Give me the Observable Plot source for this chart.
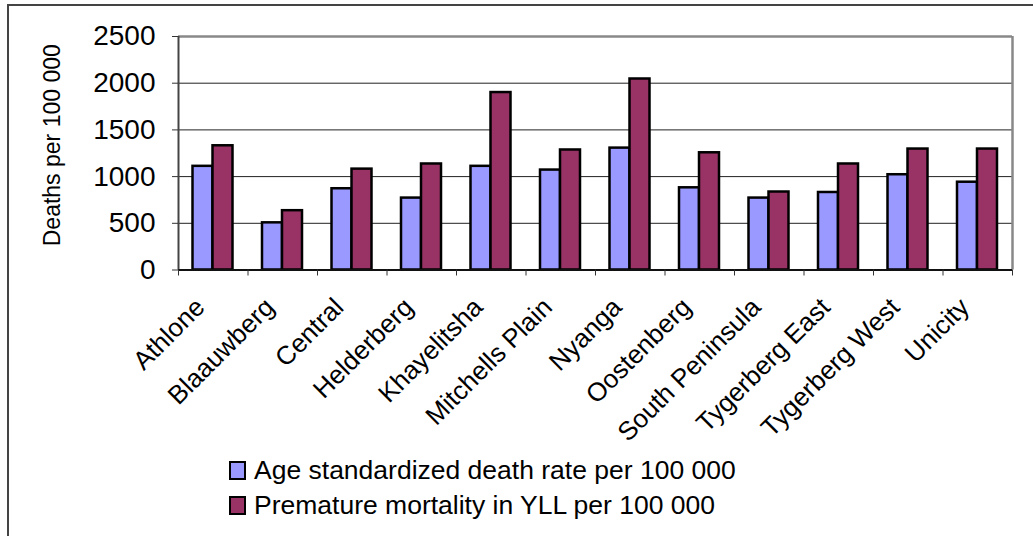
<!DOCTYPE html>
<html><head><meta charset="utf-8">
<script src="https://cdn.jsdelivr.net/npm/d3@7"></script>
<script src="https://cdn.jsdelivr.net/npm/@observablehq/plot@0.6"></script>
<style>
body{margin:0;background:#fff;font-family:"Liberation Sans",Arial,sans-serif;}
#wrap{position:relative;width:1033px;height:536px;overflow:hidden;background:#fff;}
#frame{position:absolute;left:7px;top:4px;width:1100px;height:530px;border-left:2px solid #444;border-top:2px solid #444;border-bottom:1px solid #ddd;}
#chart{position:absolute;left:0;top:0;}
#legend{position:absolute;left:229px;top:453px;font-size:26.5px;color:#000;line-height:1;}
.row{display:flex;align-items:center;height:35px;}
.sw{width:13px;height:15px;border:2.5px solid #000;margin-right:8px;flex:none;}
</style></head>
<body><div id="wrap"><div id="frame"></div><div id="chart"></div><div id="legend"></div></div>
<script>
const regions = ["Athlone","Blaauwberg","Central","Helderberg","Khayelitsha","Mitchells Plain","Nyanga","Oostenberg","South Peninsula","Tygerberg East","Tygerberg West","Unicity"];
const deathRate = [1110,505,870,770,1110,1070,1305,880,770,830,1020,940];
const yllRate = [1330,635,1080,1135,1900,1285,2045,1255,835,1135,1295,1295];
const yTicks = [0,500,1000,1500,2000,2500];
const seriesNames = ["Age standardized death rate per 100 000","Premature mortality in YLL per 100 000"];
const seriesColors = ["#9999FF","#993366"];
const yLabel = "Deaths per 100 000";

const table = regions.map((r,i)=>({i, region:r, death:deathRate[i], yll:yllRate[i]}));
const W = 1033, H = 450;
const font = "'Liberation Sans', Arial, sans-serif";

const chart = Plot.plot({
  width: W, height: H,
  marginLeft: 178, marginRight: 21, marginTop: 36, marginBottom: H - 269.5,
  x: {type: "linear", domain: [0, regions.length]},
  y: {domain: [0, 2500]},
  style: {fontFamily: font, background: "transparent", overflow: "visible", color: "#000"},
  marks: [
    Plot.gridY(yTicks.slice(1, -1), {stroke: "#222", strokeOpacity: 1, strokeWidth: 1}),
    Plot.rect(table, {x1: "i", x2: d => d.i + 1, y1: () => 0, y2: "death", fill: seriesColors[0], stroke: "#000", strokeWidth: 2.5, insetLeft: 14.5, insetRight: 35}),
    Plot.rect(table, {x1: "i", x2: d => d.i + 1, y1: () => 0, y2: "yll", fill: seriesColors[1], stroke: "#000", strokeWidth: 2.5, insetLeft: 34.5, insetRight: 15}),
    Plot.ruleY([2500], {stroke: "#888", strokeWidth: 2.5}),
    Plot.ruleX([regions.length], {stroke: "#888", strokeWidth: 2.5}),
    Plot.ruleX([0], {stroke: "#444", strokeWidth: 2}),
    Plot.ruleY([0], {stroke: "#111", strokeWidth: 2}),
    Plot.axisY({ticks: yTicks, tickSize: 6, tickPadding: 17, fontSize: 28, tickFormat: d => String(d), label: null, stroke: "#333"}),
    Plot.axisX({ticks: d3.range(regions.length + 1), tickSize: 6, tickFormat: () => "", label: null, stroke: "#333"}),
    Plot.axisX({ticks: d3.range(regions.length).map(i => i + 0.5), tickSize: 0, tickPadding: 33, dx: -13, tickFormat: v => regions[Math.floor(v)], tickRotate: -45, fontSize: 26, label: null}),
    Plot.text([yLabel], {frameAnchor: "left", rotate: -90, textAnchor: "middle", dx: -126, dy: -8, fontSize: 23})
  ]
});
document.getElementById("chart").appendChild(chart);

const legend = document.getElementById("legend");
seriesNames.forEach((n, k) => {
  const row = document.createElement("div"); row.className = "row";
  const sw = document.createElement("div"); sw.className = "sw"; sw.style.background = seriesColors[k];
  const t = document.createElement("span"); t.textContent = n;
  row.appendChild(sw); row.appendChild(t); legend.appendChild(row);
});
</script>
</body></html>
